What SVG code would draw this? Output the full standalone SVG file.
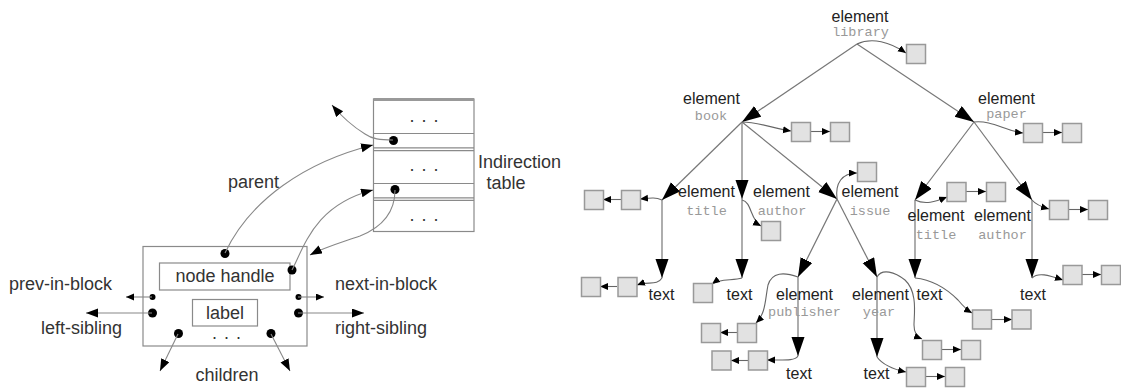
<svg xmlns="http://www.w3.org/2000/svg" width="1121" height="391" viewBox="0 0 1121 391">
  <style>
    .lbl { font-family: "Liberation Sans", Arial, sans-serif; font-size: 18px; fill: #333; }
    .el { font-family: "Liberation Sans", Arial, sans-serif; font-size: 16px; fill: #222; text-anchor: middle; }
    .mono { font-family: "Liberation Mono", "Courier New", monospace; font-size: 13.5px; fill: #999; text-anchor: middle; }
    .frame { fill: #fff; stroke: #8a8a8a; stroke-width: 1.2; }
    .sep { stroke: #8a8a8a; stroke-width: 1.2; }
    .ptr { fill: none; stroke: #888; stroke-width: 1.1; }
    .edge { fill: none; stroke: #777; stroke-width: 1.2; }
    .link { fill: none; stroke: #666; stroke-width: 1.1; }
    .box { fill: #e2e2e2; stroke: #999; stroke-width: 1.5; }
    .dot { fill: #000; }
  </style>
  <defs>
    <marker id="big" markerUnits="userSpaceOnUse" markerWidth="20" markerHeight="14" refX="19" refY="6.5" orient="auto">
      <path d="M0,0 L19,6.5 L0,13 z" fill="#000"/>
    </marker>
    <marker id="mid" markerUnits="userSpaceOnUse" markerWidth="13" markerHeight="10" refX="12" refY="4.5" orient="auto">
      <path d="M0,0 L12,4.5 L0,9 z" fill="#000"/>
    </marker>
    <marker id="small" markerUnits="userSpaceOnUse" markerWidth="9" markerHeight="8" refX="8" refY="3.5" orient="auto">
      <path d="M0,0 L8,3.5 L0,7 z" fill="#000"/>
    </marker>
  </defs>

  <!-- ============ Node record and indirection table ============ -->
  <g id="indirection-table">
    <rect class="frame" x="373.5" y="99" width="100.5" height="132.5"/>
    <line x1="373.5" y1="99.5" x2="474" y2="99.5" stroke="#999" stroke-width="3"/>
    <line class="sep" x1="373.5" y1="133.5" x2="474" y2="133.5"/>
    <line class="sep" x1="373.5" y1="147.8" x2="474" y2="147.8"/>
    <line class="sep" x1="373.5" y1="150.6" x2="474" y2="150.6"/>
    <line class="sep" x1="373.5" y1="183.5" x2="474" y2="183.5"/>
    <line class="sep" x1="373.5" y1="197.8" x2="474" y2="197.8"/>
    <line class="sep" x1="373.5" y1="200.4" x2="474" y2="200.4"/>
    <text class="lbl" x="409.5" y="121.5" letter-spacing="7">...</text>
    <text class="lbl" x="409.5" y="171" letter-spacing="7">...</text>
    <text class="lbl" x="409.5" y="221" letter-spacing="7">...</text>
    <circle class="dot" cx="393.5" cy="140.5" r="4.5"/>
    <circle class="dot" cx="395" cy="189.5" r="4.5"/>
    <text class="lbl" x="478" y="168">Indirection</text>
    <text class="lbl" x="506" y="189" text-anchor="middle">table</text>
  </g>

  <g id="node-record">
    <rect class="frame" x="143" y="246.5" width="164" height="99.5"/>
    <rect class="frame" x="159.5" y="263" width="130.5" height="27"/>
    <text class="lbl" x="225" y="282" text-anchor="middle">node handle</text>
    <rect class="frame" x="192.5" y="299.5" width="65" height="26.5"/>
    <text class="lbl" x="225" y="319" text-anchor="middle">label</text>
    <text class="lbl" x="212" y="339" letter-spacing="7">...</text>
    <circle class="dot" cx="225" cy="253.5" r="4.5"/>
    <circle class="dot" cx="292" cy="270" r="4.5"/>
    <circle class="dot" cx="152.5" cy="297" r="3"/>
    <circle class="dot" cx="152.5" cy="313" r="4.5"/>
    <circle class="dot" cx="298.5" cy="297" r="3"/>
    <circle class="dot" cx="298.5" cy="313" r="4.5"/>
    <circle class="dot" cx="178.5" cy="333.5" r="4.5"/>
    <circle class="dot" cx="271" cy="333.5" r="4.5"/>
  </g>

  <g id="record-pointers">
    <path class="ptr" d="M393,140 C380,140 372,139 365,134 C352,126 342,117 332,105" marker-end="url(#mid)"/>
    <path class="ptr" d="M225,253 C250,200 305,162 373,145" marker-end="url(#mid)"/>
    <path class="ptr" d="M292,270 C305,245 315,205 373,190" marker-end="url(#mid)"/>
    <path class="ptr" d="M395,190 C395,215 380,228 360,236 C340,243 325,247 310,255" marker-end="url(#mid)"/>
    <line class="ptr" x1="152" y1="297" x2="126" y2="297" marker-end="url(#small)"/>
    <line class="ptr" x1="152" y1="313" x2="86" y2="313" marker-end="url(#mid)"/>
    <line class="ptr" x1="298" y1="297" x2="324" y2="297" marker-end="url(#small)"/>
    <line class="ptr" x1="298" y1="313" x2="364" y2="313" marker-end="url(#mid)"/>
    <line class="ptr" x1="178" y1="334" x2="160" y2="371" marker-end="url(#mid)"/>
    <line class="ptr" x1="271" y1="334" x2="290" y2="371" marker-end="url(#mid)"/>
    <text class="lbl" x="228" y="188">parent</text>
    <text class="lbl" x="9" y="290">prev-in-block</text>
    <text class="lbl" x="41" y="334">left-sibling</text>
    <text class="lbl" x="335" y="290">next-in-block</text>
    <text class="lbl" x="335" y="334">right-sibling</text>
    <text class="lbl" x="227" y="381" text-anchor="middle">children</text>
  </g>

  <!-- ============ Element tree ============ -->
  <g id="tree-edges">
    <line class="edge" x1="857" y1="44" x2="742" y2="122" marker-end="url(#big)"/>
    <line class="edge" x1="857" y1="44" x2="974" y2="122" marker-end="url(#big)"/>
    <line class="edge" x1="742" y1="122" x2="662" y2="200" marker-end="url(#big)"/>
    <line class="edge" x1="742" y1="122" x2="742" y2="199" marker-end="url(#big)"/>
    <line class="edge" x1="742" y1="122" x2="837" y2="199" marker-end="url(#big)"/>
    <line class="edge" x1="662" y1="200" x2="662" y2="278" marker-end="url(#big)"/>
    <line class="edge" x1="742" y1="199" x2="742" y2="278" marker-end="url(#big)"/>
    <line class="edge" x1="837" y1="199" x2="798" y2="277" marker-end="url(#big)"/>
    <line class="edge" x1="837" y1="199" x2="877" y2="277" marker-end="url(#big)"/>
    <line class="edge" x1="798" y1="277" x2="798" y2="356" marker-end="url(#big)"/>
    <line class="edge" x1="877" y1="277" x2="877" y2="357" marker-end="url(#big)"/>
    <line class="edge" x1="974" y1="122" x2="915" y2="200" marker-end="url(#big)"/>
    <line class="edge" x1="974" y1="122" x2="1032" y2="200" marker-end="url(#big)"/>
    <line class="edge" x1="915" y1="200" x2="915" y2="278" marker-end="url(#big)"/>
    <line class="edge" x1="1032" y1="200" x2="1032" y2="278" marker-end="url(#big)"/>
  </g>

  <g id="value-links">
    <path class="link" d="M857,44 C872,37 890,42 906,53" marker-end="url(#small)"/>
    <path class="link" d="M742,122 C758,122 772,128 791,131" marker-end="url(#small)"/>
    <line class="link" x1="810" y1="131.5" x2="830" y2="131.5" marker-end="url(#small)"/>
    <path class="link" d="M974,122 C992,120 1005,131 1023,133" marker-end="url(#small)"/>
    <line class="link" x1="1042" y1="132.5" x2="1062" y2="132.5" marker-end="url(#small)"/>
    <path class="link" d="M662,200 C655,197 650,198 640,199" marker-end="url(#small)"/>
    <line class="link" x1="621" y1="199.5" x2="603" y2="199.5" marker-end="url(#small)"/>
    <path class="link" d="M662,278 C657,286 648,281 637,285" marker-end="url(#small)"/>
    <line class="link" x1="617" y1="286.5" x2="600" y2="286.5" marker-end="url(#small)"/>
    <path class="link" d="M742,200 C752,202 750,220 761,226" marker-end="url(#small)"/>
    <path class="link" d="M742,278 C733,281 720,278 712,284" marker-end="url(#small)"/>
    <path class="link" d="M837,199 C835,183 842,173 857,173" marker-end="url(#small)"/>
    <path class="link" d="M798,277 C784,272 772,272 768,285 C765,300 766,313 756,323" marker-end="url(#small)"/>
    <line class="link" x1="737" y1="332.5" x2="720" y2="332.5" marker-end="url(#small)"/>
    <path class="link" d="M798,356 C795,361 785,360 767,360" marker-end="url(#small)"/>
    <line class="link" x1="748" y1="360.5" x2="731" y2="360.5" marker-end="url(#small)"/>
    <path class="link" d="M877,277 C882,268 895,272 905,280 C918,292 914,315 914,325 C914,333 917,337 922,339" marker-end="url(#small)"/>
    <line class="link" x1="941" y1="349.5" x2="961" y2="349.5" marker-end="url(#small)"/>
    <path class="link" d="M877,357 C882,364 892,369 906,372" marker-end="url(#small)"/>
    <line class="link" x1="925" y1="376.5" x2="945" y2="376.5" marker-end="url(#small)"/>
    <path class="link" d="M915,200 C925,205 935,202 947,197" marker-end="url(#small)"/>
    <line class="link" x1="966" y1="191.5" x2="986" y2="191.5" marker-end="url(#small)"/>
    <path class="link" d="M915,278 C935,280 948,290 958,300 C963,306 967,310 972,313" marker-end="url(#small)"/>
    <line class="link" x1="991" y1="319.5" x2="1012" y2="319.5" marker-end="url(#small)"/>
    <path class="link" d="M1032,200 C1036,205 1042,207 1049,209" marker-end="url(#small)"/>
    <line class="link" x1="1068" y1="209.5" x2="1088" y2="209.5" marker-end="url(#small)"/>
    <path class="link" d="M1032,278 C1038,272 1048,275 1063,280" marker-end="url(#small)"/>
    <line class="link" x1="1082" y1="274.5" x2="1101" y2="274.5" marker-end="url(#small)"/>
  </g>

  <g id="library">
    <text class="el" x="860" y="21.5">element</text>
    <text class="mono" x="860.5" y="36">library</text>
    <rect class="box" x="906.5" y="44.5" width="19" height="19"/>
  </g>
  <g id="book">
    <text class="el" x="711.5" y="104">element</text>
    <text class="mono" x="711" y="120">book</text>
    <rect class="box" x="791.5" y="122.5" width="19" height="19"/>
    <rect class="box" x="830.5" y="122.5" width="19" height="19"/>
  </g>
  <g id="paper">
    <text class="el" x="1006.5" y="104">element</text>
    <text class="mono" x="1006.5" y="118">paper</text>
    <rect class="box" x="1023.5" y="123.5" width="19" height="19"/>
    <rect class="box" x="1062.5" y="123.5" width="19" height="19"/>
  </g>
  <g id="book-title">
    <text class="el" x="706.5" y="197">element</text>
    <text class="mono" x="706.5" y="214.5">title</text>
    <rect class="box" x="621.5" y="190.5" width="19" height="19"/>
    <rect class="box" x="584.5" y="190.5" width="19" height="19"/>
  </g>
  <g id="book-title-text">
    <text class="el" x="661.5" y="300">text</text>
    <rect class="box" x="618" y="277.5" width="19" height="19"/>
    <rect class="box" x="581.5" y="277.5" width="19" height="19"/>
  </g>
  <g id="book-author">
    <text class="el" x="781.5" y="197">element</text>
    <text class="mono" x="782" y="214.5">author</text>
    <rect class="box" x="761.5" y="221.5" width="19" height="19"/>
  </g>
  <g id="book-author-text">
    <text class="el" x="739.5" y="300">text</text>
    <rect class="box" x="693.5" y="283.5" width="19" height="19"/>
  </g>
  <g id="issue">
    <text class="el" x="870" y="197">element</text>
    <text class="mono" x="870" y="214.5">issue</text>
    <rect class="box" x="857.5" y="162.5" width="19" height="19"/>
  </g>
  <g id="publisher">
    <text class="el" x="804.5" y="300">element</text>
    <text class="mono" x="804.5" y="316">publisher</text>
    <rect class="box" x="737.5" y="323.5" width="19" height="19"/>
    <rect class="box" x="701.5" y="323.5" width="19" height="19"/>
  </g>
  <g id="publisher-text">
    <text class="el" x="799" y="379">text</text>
    <rect class="box" x="748.5" y="351" width="19" height="19"/>
    <rect class="box" x="712" y="351" width="19" height="19"/>
  </g>
  <g id="year">
    <text class="el" x="880.5" y="300">element</text>
    <text class="mono" x="879" y="316">year</text>
    <rect class="box" x="922.5" y="340.5" width="19" height="19"/>
    <rect class="box" x="961.5" y="340.5" width="19" height="19"/>
  </g>
  <g id="year-text">
    <text class="el" x="876.5" y="379">text</text>
    <rect class="box" x="906.5" y="367.5" width="19" height="19"/>
    <rect class="box" x="945.5" y="367.5" width="19" height="19"/>
  </g>
  <g id="paper-title">
    <text class="el" x="936" y="221">element</text>
    <text class="mono" x="936" y="239">title</text>
    <rect class="box" x="947" y="182.5" width="19" height="19"/>
    <rect class="box" x="986.5" y="182.5" width="19" height="19"/>
  </g>
  <g id="paper-title-text">
    <text class="el" x="929.5" y="300">text</text>
    <rect class="box" x="972.5" y="310" width="19" height="19"/>
    <rect class="box" x="1012" y="310" width="19" height="19"/>
  </g>
  <g id="paper-author">
    <text class="el" x="1002.5" y="221">element</text>
    <text class="mono" x="1002.5" y="239">author</text>
    <rect class="box" x="1049.5" y="200.5" width="19" height="19"/>
    <rect class="box" x="1088.5" y="200.5" width="19" height="19"/>
  </g>
  <g id="paper-author-text">
    <text class="el" x="1033" y="300">text</text>
    <rect class="box" x="1063" y="265.5" width="19" height="19"/>
    <rect class="box" x="1101.5" y="265.5" width="19" height="19"/>
  </g>
</svg>
